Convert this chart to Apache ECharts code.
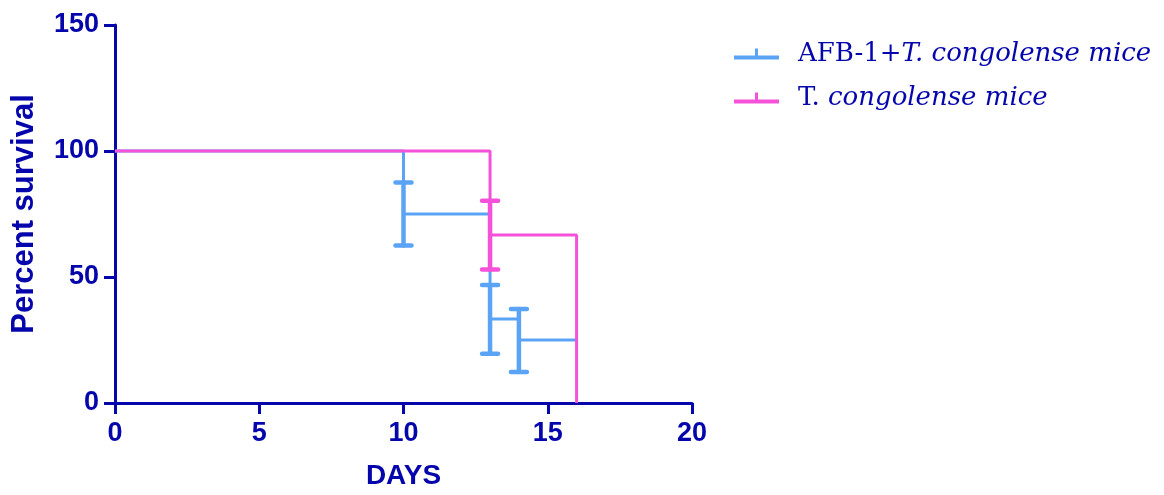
<!DOCTYPE html>
<html>
<head>
<meta charset="utf-8">
<script src="https://cdn.jsdelivr.net/npm/echarts@6/dist/echarts.min.js"></script>
<style>
  html, body { margin: 0; padding: 0; background: #fff; }
  #chart { width: 1164px; height: 495px; }
</style>
</head>
<body>
<div id="chart"></div>
<script>
// survival steps (Kaplan-Meier)
const afbDays = [0, 10, 13, 14, 16]
const afbSurvival = [100, 75, 33.3, 25, 25]
const tcDays = [0, 13, 16]
const tcSurvival = [100, 66.7, 0]

// error bars: day, low, high
const afbErrDays = [10, 13, 14]
const afbErrLow = [62.5, 19.5, 12.3]
const afbErrHigh = [87.5, 46.8, 37.3]
const tcErrDays = [13]
const tcErrLow = [53]
const tcErrHigh = [80.3]

const xTicks = [0, 5, 10, 15, 20]
const yTicks = [0, 50, 100, 150]

const AXIS = "#0505ac"
const BLUE = "#5ba4f5"
const PINK = "#f552d9"
const SANS = "Arial, Liberation Sans, sans-serif"

const chart = echarts.init(document.getElementById("chart"))

const zip = (xs, ys) => xs.map((x, i) => [x, ys[i]])
const zip3 = (xs, lo, hi) => xs.map((x, i) => [x, lo[i], hi[i]])

const errorBars = (color) => (params, api) => {
  const x = api.value(0)
  const top = api.coord([x, api.value(2)])
  const bot = api.coord([x, api.value(1)])
  const hw = 8
  const st = { stroke: color, lineWidth: 4.5, lineCap: "round" }
  return {
    type: "group",
    children: [
      { type: "line", shape: { x1: top[0], y1: top[1], x2: bot[0], y2: bot[1] }, style: st },
      { type: "line", shape: { x1: top[0] - hw, y1: top[1], x2: top[0] + hw, y2: top[1] }, style: st },
      { type: "line", shape: { x1: bot[0] - hw, y1: bot[1], x2: bot[0] + hw, y2: bot[1] }, style: st },
    ],
  }
}

const legendNames = ["AFB-1+T. congolense mice", "T. congolense mice"]

const legendRow = (name, top) => ({
  data: [name],
  left: 729,
  top: top,
  itemWidth: 45,
  itemHeight: 11,
  icon: "path://M0,7H45V11H0Z M21,0H24V7H21Z",
  formatter: (n) => {
    if (n === legendNames[0]) return "{n|AFB-1+}{i|T. congolense mice}"
    return "{n|T. }{i|congolense mice}"
  },
  textStyle: {
    padding: [0, 0, 0, 14],
    lineHeight: 30,
    rich: {
      n: { fontFamily: "DejaVu Serif", fontSize: 26, color: AXIS, lineHeight: 30 },
      i: { fontFamily: "DejaVu Serif", fontStyle: "italic", fontSize: 26, color: AXIS, lineHeight: 30 },
    },
  },
})

const option = {
  animation: false,
  grid: { left: 115, right: 472, top: 25, bottom: 86 },
  legend: [legendRow(legendNames[0], 34), legendRow(legendNames[1], 78)],
  xAxis: {
    type: "value",
    min: xTicks[0],
    max: xTicks[xTicks.length - 1],
    interval: 5,
    name: "DAYS",
    nameLocation: "middle",
    nameGap: 59,
    nameTextStyle: { fontFamily: SANS, fontWeight: "bold", fontSize: 28, color: AXIS },
    axisLine: { lineStyle: { color: AXIS, width: 3 } },
    axisTick: { length: 11, lineStyle: { color: AXIS, width: 3 } },
    axisLabel: { margin: 17, fontFamily: SANS, fontWeight: "bold", fontSize: 27, color: AXIS },
    splitLine: { show: false },
  },
  yAxis: {
    type: "value",
    min: yTicks[0],
    max: yTicks[yTicks.length - 1],
    interval: 50,
    name: "Percent survival",
    nameLocation: "middle",
    nameRotate: 90,
    nameGap: 75,
    nameTextStyle: { fontFamily: SANS, fontWeight: "bold", fontSize: 31, color: AXIS },
    axisLine: { lineStyle: { color: AXIS, width: 3 } },
    axisTick: { length: 11, lineStyle: { color: AXIS, width: 3 } },
    axisLabel: { margin: 16, fontFamily: SANS, fontWeight: "bold", fontSize: 27, color: AXIS },
    splitLine: { show: false },
  },
  series: [
    {
      name: legendNames[0],
      type: "line",
      step: "end",
      data: zip(afbDays, afbSurvival),
      symbol: "none",
      z: 2,
      lineStyle: { color: BLUE, width: 3 },
      itemStyle: { color: BLUE },
    },
    {
      name: "afb-err",
      type: "custom",
      data: zip3(afbErrDays, afbErrLow, afbErrHigh),
      renderItem: errorBars(BLUE),
      z: 3,
    },
    {
      name: legendNames[1],
      type: "line",
      step: "end",
      data: zip(tcDays, tcSurvival),
      symbol: "none",
      z: 4,
      lineStyle: { color: PINK, width: 3 },
      itemStyle: { color: PINK },
    },
    {
      name: "tc-err",
      type: "custom",
      data: zip3(tcErrDays, tcErrLow, tcErrHigh),
      renderItem: errorBars(PINK),
      z: 5,
    },
  ],
}

chart.setOption(option)
</script>
</body>
</html>
